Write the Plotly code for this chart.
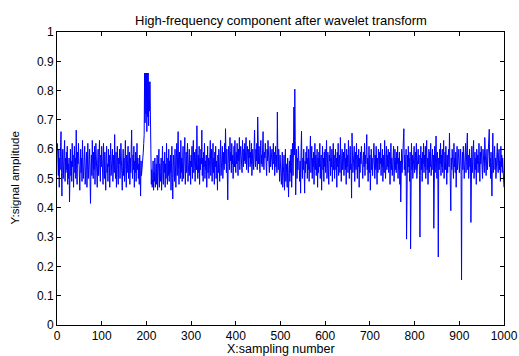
import numpy as np
import plotly.graph_objects as go

# Signal values (sample index 1..1000)
signal = [
 .62,.55,.51,.60,.47,.57,.53,.61,.66,.52,.44,.56,.60,.50,.58,.54,.63,.49,.57,.52,
 .59,.53,.61,.48,.55,.50,.57,.42,.53,.60,.51,.56,.49,.62,.54,.58,.47,.55,.61,.52,
 .57,.50,.665,.53,.48,.59,.55,.62,.51,.56,.46,.54,.60,.52,.57,.49,.63,.55,.50,.58,
 .53,.61,.48,.56,.52,.59,.47,.55,.62,.50,.57,.53,.60,.49,.415,.54,.58,.51,.63,.55,
 .50,.59,.53,.61,.48,.56,.62,.52,.58,.47,.55,.60,.51,.57,.63,.53,.49,.58,.54,.61,
 .52,.57,.48,.62,.55,.50,.59,.53,.46,.57,.61,.52,.55,.49,.60,.54,.58,.47,.56,.62,
 .51,.57,.53,.60,.49,.55,.58,.52,.65,.54,.50,.59,.47,.56,.61,.53,.48,.57,.55,.60,
 .50,.56,.62,.52,.58,.46,.54,.60,.51,.57,.49,.55,.63,.53,.47,.58,.52,.56,.61,.50,
 .55,.59,.48,.57,.52,.60,.665,.54,.50,.58,.53,.61,.47,.56,.52,.59,.49,.55,.62,.53,
 .57,.50,.55,.48,.58,.52,.44,.56,.51,.53,.57,.55,.59,.62,.65,.86,.69,.86,.72,.86,
 .66,.86,.71,.86,.68,.83,.73,.83,.60,.55,.48,.53,.47,.50,.56,.46,.52,.49,.57,.47,
 .51,.55,.48,.58,.46,.53,.50,.60,.47,.55,.52,.49,.57,.46,.54,.61,.50,.48,.56,.52,
 .59,.47,.55,.50,.62,.53,.48,.57,.51,.60,.49,.56,.52,.58,.46,.55,.61,.50,.43,.54,
 .58,.52,.49,.60,.55,.47,.57,.62,.51,.56,.66,.53,.48,.59,.54,.50,.63,.52,.57,.49,
 .55,.61,.50,.57,.53,.64,.48,.56,.59,.52,.55,.62,.49,.57,.53,.60,.51,.56,.48,.58,
 .54,.61,.50,.57,.63,.52,.55,.59,.49,.56,.60,.53,.68,.55,.50,.58,.52,.61,.48,.57,
 .53,.60,.55,.665,.51,.57,.49,.59,.54,.62,.50,.56,.53,.58,.47,.55,.61,.52,.57,.50,
 .58,.53,.63,.51,.56,.60,.49,.55,.62,.52,.57,.48,.59,.54,.61,.50,.56,.53,.46,.58,
 .52,.60,.55,.49,.57,.63,.51,.58,.54,.61,.50,.56,.59,.53,.62,.55,.67,.58,.52,.60,
 .49,.427,.55,.61,.57,.53,.64,.56,.59,.52,.62,.55,.58,.50,.57,.61,.54,.63,.56,.52,
 .59,.55,.62,.57,.51,.60,.56,.64,.53,.58,.61,.55,.59,.52,.63,.57,.54,.60,.56,.62,
 .55,.59,.64,.53,.58,.61,.56,.52,.60,.57,.63,.54,.59,.55,.62,.51,.58,.60,.56,.53,
 .61,.665,.57,.54,.60,.56,.62,.53,.71,.58,.55,.61,.57,.52,.59,.63,.55,.58,.54,.60,
 .66,.56,.53,.59,.57,.62,.54,.58,.51,.60,.56,.63,.55,.59,.52,.57,.61,.54,.58,.56,
 .60,.53,.57,.62,.55,.59,.51,.56,.61,.54,.58,.52,.727,.57,.53,.60,.55,.49,.58,.52,
 .56,.48,.53,.59,.47,.55,.51,.58,.46,.54,.60,.49,.55,.52,.47,.57,.50,.437,.53,.56,
 .49,.58,.52,.60,.47,.55,.62,.51,.59,.744,.58,.805,.63,.444,.55,.60,.50,.57,.53,.61,
 .52,.58,.49,.56,.45,.59,.662,.54,.50,.57,.53,.60,.48,.45,.56,.52,.59,.55,.61,.50,
 .57,.53,.60,.49,.55,.58,.645,.52,.56,.61,.50,.57,.54,.59,.48,.56,.62,.53,.58,.51,
 .55,.60,.47,.57,.52,.59,.54,.62,.50,.56,.58,.46,.55,.61,.53,.57,.49,.59,.54,.60,
 .52,.57,.63,.50,.55,.59,.53,.48,.58,.56,.61,.51,.57,.54,.60,.49,.56,.62,.53,.58,
 .50,.55,.60,.53,.57,.47,.59,.54,.62,.51,.56,.58,.52,.64,.55,.49,.57,.60,.53,.56,
 .59,.51,.55,.62,.53,.57,.48,.60,.54,.58,.52,.63,.56,.50,.57,.61,.53,.55,.433,.655,
 .58,.52,.57,.54,.61,.49,.56,.59,.53,.62,.55,.50,.58,.54,.60,.47,.57,.52,.59,.55,
 .61,.53,.57,.50,.56,.59,.54,.62,.51,.58,.55,.60,.65,.53,.57,.49,.55,.61,.52,.58,
 .46,.55,.60,.53,.57,.51,.59,.54,.62,.56,.50,.58,.53,.61,.55,.48,.57,.52,.60,.56,
 .53,.59,.55,.62,.51,.57,.54,.60,.49,.56,.58,.52,.63,.55,.50,.57,.61,.53,.58,.54,
 .60,.52,.56,.59,.48,.55,.62,.53,.57,.51,.58,.54,.61,.49,.56,.60,.53,.57,.52,.59,
 .55,.61,.50,.57,.53,.59,.48,.56,.42,.54,.60,.52,.57,.55,.62,.67,.53,.58,.51,.56,
 .60,.293,.55,.58,.52,.61,.54,.57,.49,.59,.26,.56,.62,.53,.58,.50,.57,.55,.61,.52,
 .56,.59,.53,.62,.50,.57,.54,.60,.55,.58,.51,.30,.56,.61,.53,.57,.49,.59,.55,.62,
 .52,.58,.54,.61,.50,.56,.63,.53,.57,.48,.55,.60,.52,.59,.54,.62,.51,.57,.55,.60,
 .53,.58,.33,.56,.61,.52,.57,.645,.55,.50,.59,.54,.232,.57,.53,.60,.55,.62,.51,.58,
 .54,.60,.52,.57,.63,.50,.56,.59,.53,.61,.55,.48,.58,.52,.57,.60,.54,.655,.56,.51,
 .39,.57,.53,.60,.55,.58,.50,.62,.54,.57,.52,.59,.47,.56,.61,.53,.58,.55,.60,.52,
 .57,.54,.60,.51,.154,.55,.59,.53,.61,.56,.50,.58,.54,.62,.52,.57,.55,.655,.53,.58,
 .50,.56,.60,.54,.57,.35,.55,.61,.52,.58,.54,.63,.50,.56,.59,.53,.57,.48,.60,.55,
 .58,.52,.56,.62,.54,.49,.59,.55,.61,.53,.57,.50,.60,.54,.58,.52,.64,.55,.57,.51,
 .56,.60,.53,.58,.55,.61,.668,.54,.57,.50,.59,.53,.44,.56,.655,.52,.58,.55,.61,.53,
 .57,.50,.59,.54,.62,.55,.52,.58,.60,.53,.56,.49,.61,.54,.58,.52,.57,.55,.50,.47,
]
sample_index = np.arange(1, len(signal) + 1)

title_text = "High-frequency component after wavelet transform"
x_title = "X:sampling number"
y_title = "Y:signal amplitude"
x_ticks = [0, 100, 200, 300, 400, 500, 600, 700, 800, 900, 1000]
y_ticks = [0, 0.1, 0.2, 0.3, 0.4, 0.5, 0.6, 0.7, 0.8, 0.9, 1]
y_tick_text = ["0", "0.1", "0.2", "0.3", "0.4", "0.5", "0.6", "0.7", "0.8", "0.9", "1"]

FONT = "Liberation Sans, Arial, sans-serif"

fig = go.Figure()
fig.add_trace(go.Scatter(x=sample_index, y=signal, mode="lines",
                         line=dict(color="#0000FF", width=1), showlegend=False,
                         hoverinfo="skip"))

axis_common = dict(showline=True, linecolor="black", linewidth=1, mirror="ticks",
                   ticks="inside", ticklen=4, tickcolor="black", showgrid=False,
                   zeroline=False, automargin=False,
                   tickfont=dict(family=FONT, size=12, color="black"))

fig.update_xaxes(range=[0, 1000], tickvals=x_ticks, **axis_common)
fig.update_yaxes(range=[0, 1], tickvals=y_ticks, ticktext=y_tick_text, **axis_common)

fig.update_layout(
    width=519, height=356,
    margin=dict(l=57, r=15, t=32, b=31),
    paper_bgcolor="white", plot_bgcolor="white",
    font=dict(family=FONT, color="black"),
    annotations=[
        dict(text=title_text, xref="paper", yref="paper", x=0.5, y=1, yshift=12,
             showarrow=False, xanchor="center", yanchor="middle",
             font=dict(family=FONT, size=13, color="black")),
        dict(text=x_title, xref="paper", yref="paper", x=0.5, y=0, yshift=-24,
             showarrow=False, xanchor="center", yanchor="middle",
             font=dict(family=FONT, size=12.5, color="black")),
        dict(text=y_title, xref="paper", yref="paper", x=0, y=0.5, xshift=-43,
             showarrow=False, xanchor="center", yanchor="middle", textangle=-90,
             font=dict(family=FONT, size=11.5, color="black")),
    ],
)

fig.write_html("out.html")
